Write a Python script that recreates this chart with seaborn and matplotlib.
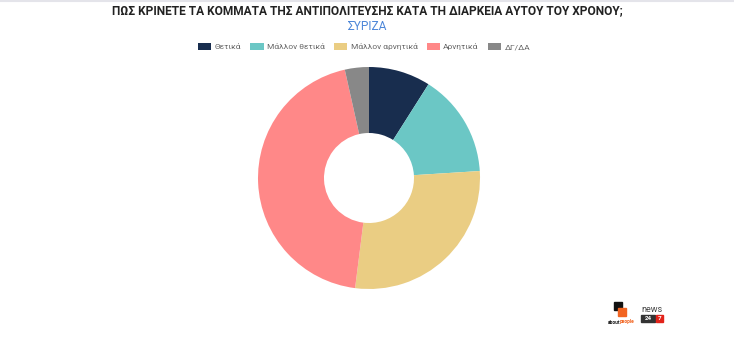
import matplotlib
matplotlib.use("Agg")
import matplotlib.pyplot as plt
import seaborn as sns
from matplotlib.patches import Rectangle, FancyBboxPatch
from matplotlib.lines import Line2D

sns.set_theme(style="white")
plt.rcParams['font.family'] = ['Roboto', 'DejaVu Sans']

title = "ΠΩΣ ΚΡΙΝΕΤΕ ΤΑ ΚΟΜΜΑΤΑ ΤΗΣ ΑΝΤΙΠΟΛΙΤΕΥΣΗΣ ΚΑΤΑ ΤΗ ΔΙΑΡΚΕΙΑ ΑΥΤΟΥ ΤΟΥ ΧΡΟΝΟΥ;"
subtitle = "ΣΥΡΙΖΑ"
categories = ["Θετικά", "Μάλλον θετικά", "Μάλλον αρνητικά", "Αρνητικά", "ΔΓ/ΔΑ"]
values = [9, 15, 28, 44.5, 3.5]
colors = sns.color_palette(["#182d4e", "#6bc7c5", "#eacd83", "#ff8888", "#888888"])

W, H = 734, 340
fig = plt.figure(figsize=(W / 100, H / 100), dpi=100)
fig.patch.set_facecolor("white")

# thin top border
fig.add_artist(Line2D([0, 1], [1 - 1 / H, 1 - 1 / H], color="#e4e4ea", lw=1.5))

cx, cy, r = 369, 178, 111
ax = fig.add_axes([(cx - r) / W, (H - cy - r) / H, 2 * r / W, 2 * r / H])
ax.pie(values, colors=colors, startangle=90, counterclock=False, radius=1,
       wedgeprops=dict(width=1 - 45 / 111, edgecolor="none"))
ax.set_xlim(-1, 1)
ax.set_ylim(-1, 1)
ax.set_aspect("equal")
ax.axis("off")

fig.text(367 / W, 1 - 11 / H, title, ha="center", va="center",
         fontsize=8.6, fontweight="bold", color="#222222")
fig.text(367 / W, 1 - 26.5 / H, subtitle, ha="center", va="center",
         fontsize=8.6, color="#4c86d8")

handles = [FancyBboxPatch((0, 0), 1, 1, boxstyle="round,pad=0.1", facecolor=c, edgecolor="none")
           for c in colors]
leg = fig.legend(handles, categories, loc="center", bbox_to_anchor=(364 / W, 1 - 46.5 / H),
                 ncol=5, frameon=False, fontsize=6.0, handlelength=1.6, handleheight=0.9,
                 handletextpad=0.4, columnspacing=1.1, labelcolor="#666666")

# logos (approximate)
fig.add_artist(Rectangle((614 / W, 1 - 310 / H), 8 / W, 8 / H, color="#111111"))
fig.add_artist(Rectangle((618 / W, 1 - 316 / H), 8 / W, 8 / H, color="#f26522"))
fig.text(620 / W, 1 - 322 / H, "about", ha="right", va="center", fontsize=3.6,
         fontweight="bold", color="#222222")
fig.text(620 / W, 1 - 322 / H, "people", ha="left", va="center", fontsize=3.6,
         fontweight="bold", color="#f26522")
fig.text(641 / W, 1 - 309 / H, "news", ha="left", va="center", fontsize=6.5,
         color="#444444")
fig.add_artist(Rectangle((641 / W, 1 - 322 / H), 14 / W, 7 / H, color="#333333"))
fig.text(648 / W, 1 - 318.5 / H, "24", ha="center", va="center", fontsize=4.5,
         fontweight="bold", color="white")
fig.add_artist(Rectangle((656 / W, 1 - 322 / H), 7 / W, 7 / H, color="#e2231a"))
fig.text(659.5 / W, 1 - 318.5 / H, "7", ha="center", va="center", fontsize=4.5,
         fontweight="bold", color="white")

fig.savefig("out.png", dpi=100, facecolor="white")
